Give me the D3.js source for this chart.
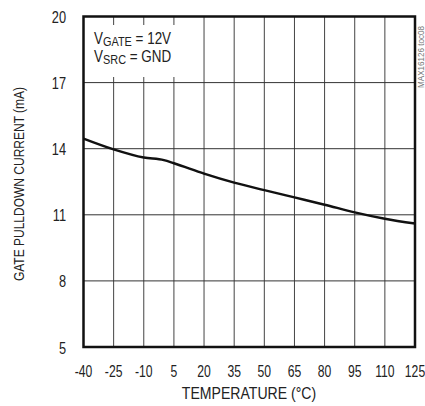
<!DOCTYPE html>
<html>
<head>
<meta charset="utf-8">
<script src="https://cdn.jsdelivr.net/npm/d3@7"></script>
<style>
  body { margin: 0; background: #fff; }
  text { font-family: 'Liberation Sans', Arial, sans-serif; fill: #222; }
</style>
</head>
<body>
<svg class="chart" width="425" height="406"></svg>
<script>
// Values.
const temps = [-40, -25, -10, 0, 5, 20, 35, 50, 65, 80, 95, 110, 125]
const current = [14.46, 13.97, 13.6, 13.48, 13.34, 12.87, 12.46, 12.12, 11.79, 11.46, 11.11, 10.82, 10.6]
const xTicks = [-40, -25, -10, 5, 20, 35, 50, 65, 80, 95, 110, 125]
const yTicks = [5, 8, 11, 14, 17, 20]

const [x0, x1, y0, y1] = [83.5, 415, 16.5, 347]

const svg = d3.select('svg.chart')

const x = d3.scaleLinear().domain([-40, 125]).range([x0, x1])
const y = d3.scaleLinear().domain([5, 20]).range([y1, y0])

// no condensed face installed, squeeze the text instead
const at = (px, py, k, rot) => `translate(${px},${py})${rot ? ` rotate(${rot})` : ''} scale(${k},1)`

// grid
svg.append('g')
	.selectAll('line')
	.data(xTicks.slice(1, -1))
	.enter().append('line')
		.attr('x1', d => x(d)).attr('x2', d => x(d))
		.attr('y1', y0).attr('y2', y1)
		.attr('stroke', '#444').attr('stroke-width', 1)

svg.append('g')
	.selectAll('line')
	.data(yTicks.slice(1, -1))
	.enter().append('line')
		.attr('x1', x0).attr('x2', x1)
		.attr('y1', d => y(d)).attr('y2', d => y(d))
		.attr('stroke', '#333').attr('stroke-width', 1)

// white box behind the note
svg.append('rect')
	.attr('x', x0 + 1).attr('y', 25)
	.attr('width', 116).attr('height', 52)
	.attr('fill', '#fff')

const note = svg.append('g').attr('font-size', 16)
const line1 = note.append('text').attr('transform', at(94, 44, 0.84))
line1.append('tspan').text('V')
line1.append('tspan').attr('font-size', 13).attr('dy', 2).text('GATE')
line1.append('tspan').attr('dy', -2).text(' = 12V')
const line2 = note.append('text').attr('transform', at(94, 62, 0.84))
line2.append('tspan').text('V')
line2.append('tspan').attr('font-size', 13).attr('dy', 2).text('SRC')
line2.append('tspan').attr('dy', -2).text(' = GND')

// curve
const line = d3.line()
	.x((d, i) => x(temps[i]))
	.y(d => y(d))
	.curve(d3.curveMonotoneX)

svg.append('path')
	.datum(current)
	.attr('d', line)
	.attr('fill', 'none')
	.attr('stroke', '#111')
	.attr('stroke-width', 2.5)

// frame
svg.append('rect')
	.attr('x', x0).attr('y', y0)
	.attr('width', x1 - x0).attr('height', y1 - y0)
	.attr('fill', 'none')
	.attr('stroke', '#111')
	.attr('stroke-width', 2.5)

// tick labels
svg.append('g')
	.selectAll('text')
	.data(xTicks)
	.enter().append('text')
		.attr('transform', d => at(x(d), 376.5, 0.76))
		.attr('text-anchor', 'middle')
		.attr('font-size', 16)
		.text(d => d)

svg.append('g')
	.selectAll('text')
	.data(yTicks)
	.enter().append('text')
		.attr('transform', d => at(66, y(d) + 6.5, 0.8))
		.attr('text-anchor', 'end')
		.attr('font-size', 16)
		.text(d => d)

// axis titles
svg.append('text')
	.attr('transform', at(249, 399, 0.88))
	.attr('text-anchor', 'middle')
	.attr('font-size', 16)
	.text('TEMPERATURE (°C)')

svg.append('text')
	.attr('transform', at(24, 184, 0.8, -90))
	.attr('text-anchor', 'middle')
	.attr('font-size', 15)
	.text('GATE PULLDOWN CURRENT (mA)')

// figure tag
svg.append('text')
	.attr('transform', at(424, 88, 0.9, -90))
	.attr('font-size', 9)
	.style('fill', '#777')
	.text('MAX16126 toc08')
</script>
</body>
</html>
